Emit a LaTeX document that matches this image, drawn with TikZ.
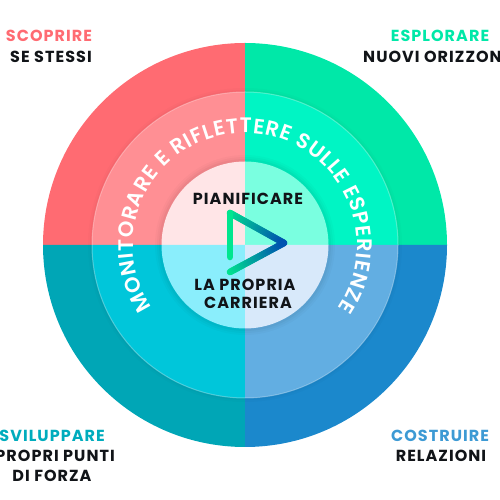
\documentclass[tikz,border=0pt]{standalone}
\usepackage{fontspec}
\setmainfont{Poppins}[BoldFont={Poppins SemiBold}]
\newfontfamily\lblfont{Poppins}[LetterSpace=6.5]
\usetikzlibrary{decorations.text,calc}
\definecolor{oTL}{HTML}{FF6B72}\definecolor{oTR}{HTML}{00E8A8}\definecolor{oBL}{HTML}{00A6B6}\definecolor{oBR}{HTML}{1B88CC}
\definecolor{mTL}{HTML}{FF8F94}\definecolor{mTR}{HTML}{00F5C4}\definecolor{mBL}{HTML}{00C6DA}\definecolor{mBR}{HTML}{62AEE2}
\definecolor{iTL}{HTML}{FFE5E7}\definecolor{iTR}{HTML}{7AFFE0}\definecolor{iBL}{HTML}{8AEEFC}\definecolor{iBR}{HTML}{D8E9FA}
\definecolor{playA}{HTML}{00E68F}\definecolor{playB}{HTML}{0050B0}
\definecolor{inkc}{HTML}{111418}
\tikzset{
  lbl/.style={inner sep=0pt,font=\fontsize{16}{18}\selectfont\lblfont\bfseries,text=inkc},
  clbl/.style={inner sep=0pt,font=\fontsize{16}{18}\selectfont\lblfont\bfseries,text=inkc},
}
\newcommand{\quadr}[5]{% radius, TL, TR, BL, BR
  \fill[#2] (0,0) -- (-#1,0) arc (180:90:#1) -- cycle;
  \fill[#3] (0,0) -- (0,#1) arc (90:0:#1) -- cycle;
  \fill[#4] (0,0) -- (0,-#1) arc (270:180:#1) -- cycle;
  \fill[#5] (0,0) -- (#1,0) arc (0:-90:#1) -- cycle;
}
\begin{document}
\begin{tikzpicture}[x=1pt,y=1pt]
\useasboundingbox (0,0) rectangle (500,500);
\clip (0,0) rectangle (500,500);
\begin{scope}[shift={(245,255)}]
  \quadr{202}{oTL}{oTR}{oBL}{oBR}
  \foreach \r/\o in {157/.03,155/.04}{\fill[black,opacity=\o*0.5] (0,0) circle (\r);}
  \quadr{153}{mTL}{mTR}{mBL}{mBR}
  \draw[white,opacity=.3,line width=1pt] (0,0) circle (153);
  \foreach \r/\o in {90/.04,88/.05,86/.06}{\fill[black,opacity=\o*0.5] (0,0) circle (\r);}
  \quadr{83.5}{iTL}{iTR}{iBL}{iBR}
  \path[decorate,decoration={text along path,text align={fit to path},
     text={|\fontsize{21}{22}\selectfont\bfseries\color{white}|MONITORARE E RIFLETTERE SULLE ESPERIENZE}}]
     (214:112) arc (214:-34:112);
\end{scope}
% play symbol
\begin{scope}[line width=6.6pt,line cap=round,line join=round]
  \foreach \i in {0,...,39}{
    \pgfmathsetmacro{\fa}{\i/40}\pgfmathsetmacro{\fb}{(\i+1)/40}
    \pgfmathsetmacro{\mx}{100*(\i+.5)/40}
    \colorlet{segc}{playB!\mx!playA}
    \draw[segc] ($(230,287)!\fa!(284,257)$) -- ($(230,287)!\fb!(284,257)$);
  }
  \foreach \i in {0,...,39}{
    \pgfmathsetmacro{\fa}{\i/40}\pgfmathsetmacro{\fb}{(\i+1)/40}
    \pgfmathsetmacro{\mx}{100*(\i+.5)/40}
    \colorlet{segc}{playB!\mx!playA}
    \draw[segc] ($(230,228)!\fa!(284,257)$) -- ($(230,228)!\fb!(284,257)$);
  }
  \draw[playA] (230,243) -- (230,287);
\end{scope}
\node[clbl] (plan) at (248,301) {PIANIFICARE};
\node[clbl] (lapr) at (245,215) {LA PROPRIA};
\node[clbl] (carr) at (248,197) {CARRIERA};
\node[lbl,text=oTL] (sco) at (49,464) {SCOPRIRE};
\node[lbl] (sest) at (51,443) {SE STESSI};
\node[lbl,text=oTR] (esp) at (440,464) {ESPLORARE};
\node[lbl,anchor=west] (nuo) at (363,443) {NUOVI ORIZZON};
\node[lbl,text=oBL!80!mBL,anchor=east] (svi) at (105,64) {SVILUPPARE};
\node[lbl,anchor=east] (pro) at (115,44) {PROPRI PUNTI};
\node[lbl] (dif) at (52,24) {DI FORZA};
\node[lbl,text=oBR!85!white] (cos) at (440,64) {COSTRUIRE};
\node[lbl] (rel) at (441,44) {RELAZIONI};
\end{tikzpicture}
\end{document}
